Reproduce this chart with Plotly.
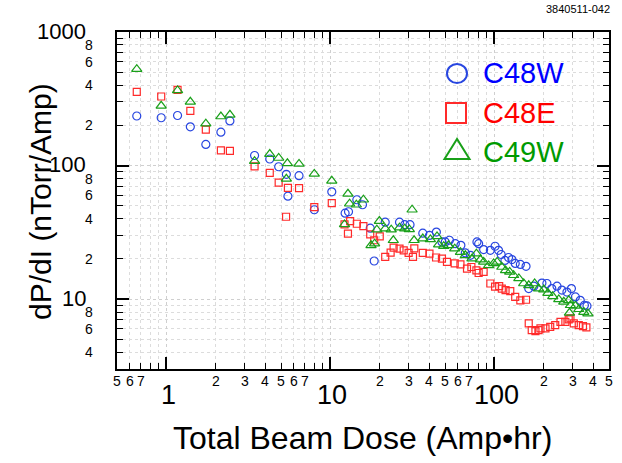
import plotly.graph_objects as go
import math

# ---------------- data ----------------
c48w_dose = [0.66,0.93,1.17,1.40,1.74,2.15,2.44,3.45,4.27,4.84,5.39,5.51,6.44,7.98,10.2,12.3,12.9,14.5,15.7,17.5,
             18.5,21.6,26.4,28.4,30.6,36.6,40.2,44.3,47.9,50.2,53.2,57.8,62.5,66.5,71.4,78.3,80.2,86.0,94.5,101,
             106,110,116,122,128,134,144,156,162,174,195,209,224,241,258,277,295,312,334,354,367]
c48w_dpdi = [235,228,237,195,144,178,216,119,112,98,86,59,84,46.7,63.6,44,45.1,55.5,50.9,34.0,
             19.3,37.7,37.7,36.1,36.1,31.2,30.0,31.8,26.8,26.8,27.6,26.0,25.3,22.2,21.3,26.8,26.0,23.5,23.2,24.9,
             23.2,21.6,19.5,20.5,19.8,18.5,18.2,17.6,12.0,12.5,13.2,13.1,12.0,12.5,11.7,11.3,12.0,10.4,9.8,9.0,8.9]

c48e_dose = [0.66,0.93,1.17,1.40,1.74,2.15,2.44,3.45,4.27,4.84,5.51,5.37,6.44,7.98,10.2,12.2,12.8,13.2,14.5,15.9,
             17.5,18.5,20.0,21.6,23.3,24.3,26.4,28.0,30.0,31.9,32.5,36.6,40.2,44.1,47.9,51.4,57.3,62.1,68.1,72.4,
             77.7,80.2,86.0,94.5,101,107,111,117,125,134,144,156,162,169,178,186,191,205,219,235,
             253,271,284,291,305,327,347,364]
c48e_dpdi = [356,329,369,257,186,130,129,98.8,88.2,74.6,68.2,41.4,67.7,48.9,52.3,36.3,30.9,38.4,36.7,35.2,
             30.5,27.6,29.5,20.7,22.3,24.3,23.9,23.2,22.2,20.7,24.0,22.2,21.9,20.5,20.1,19.0,18.5,18.2,16.9,17.4,
             16.4,15.7,16.0,13.1,12.4,12.5,12.0,11.7,11.5,10.4,9.8,9.9,6.59,5.87,5.77,5.87,6.04,6.04,6.21,6.40,
             6.77,6.77,7.06,7.18,6.59,6.40,6.29,6.15]

c49w_dose = [0.66,0.93,1.17,1.40,1.74,2.15,2.44,3.45,4.27,4.84,5.47,5.39,6.44,7.98,10.2,12.8,13.1,12.2,14.4,15.9,
             17.7,18.6,19.2,19.9,21.6,23.5,24.2,26.4,28.4,30.3,31.5,32.4,36.6,40.7,44.7,45.7,49.1,52.6,57.3,62.1,
             66.5,73.0,77.7,82.2,86.0,92.3,99,104,111,117,124,131,141,151,162,176,186,200,212,227,
             247,265,284,291,287,312,327,351,372]
c49w_dpdi = [527,280,365,300,206,233,240,108,122,114,104,79.6,103,86.7,76.9,61.5,51.8,36.3,50.9,55.5,
             25.3,26.0,33.1,38.4,33.7,33.1,27.6,34.3,33.7,33.3,46.7,27.6,28.4,28.0,29.5,25.6,24.9,25.3,23.9,22.5,
             21.3,20.1,21.9,19.8,19.0,17.9,18.5,19.0,17.4,16.4,16.0,15.1,14.3,13.1,12.7,13.1,12.0,11.8,11.1,10.5,
             9.95,9.55,9.8,9.0,7.9,8.9,8.4,8.0,7.8]

series_names = ["C48W", "C48E", "C49W"]

x_range = (0.5, 500)
y_range = (3, 1000)
x_major = [1, 10, 100]
x_major_labels = ["1", "10", "100"]
x_minor_labels = [(0.5, "5"), (0.6, "6"), (0.7, "7"),
                  (2, "2"), (3, "3"), (4, "4"), (5, "5"), (6, "6"), (7, "7"),
                  (20, "2"), (30, "3"), (40, "4"), (50, "5"), (60, "6"), (70, "7"),
                  (200, "2"), (300, "3"), (400, "4"), (500, "5")]
y_major = [10, 100, 1000]
y_major_labels = ["10", "100", "1000"]
y_minor_labels = [(4, "4"), (6, "6"), (8, "8"),
                  (20, "2"), (40, "4"), (60, "6"), (80, "8"),
                  (200, "2"), (400, "4"), (600, "6"), (800, "8")]

# ---------------- styling ----------------
FONT = "Liberation Sans"
BLUE_M, RED_M, GREEN_M = "#2846e0", "#ff2a2a", "#19a019"
BLUE_T, RED_T, GREEN_T = "#0000ff", "#ff0000", "#009a00"

W, H = 622, 463
L, R, T, B = 117, 609, 32, 369

def pxx(p):
    return (p - L) / (R - L)

def pxy(p):
    return (B - p) / (B - T)

XL0, XL1 = math.log10(x_range[0]), math.log10(x_range[1])
YL0, YL1 = math.log10(y_range[0]), math.log10(y_range[1])

def fx(v):  # data value -> paper fraction along x
    return (math.log10(v) - XL0) / (XL1 - XL0)

def fy(v):
    return (math.log10(v) - YL0) / (YL1 - YL0)

fig = go.Figure()
fig.add_trace(go.Scatter(x=c48w_dose, y=c48w_dpdi, mode="markers", name=series_names[0],
                         marker=dict(symbol="circle-open", size=8, color=BLUE_M, line=dict(width=1.2))))
fig.add_trace(go.Scatter(x=c48e_dose, y=c48e_dpdi, mode="markers", name=series_names[1],
                         marker=dict(symbol="square-open", size=7, color=RED_M, line=dict(width=1.2))))
fig.add_trace(go.Scatter(x=c49w_dose, y=c49w_dpdi, mode="markers", name=series_names[2],
                         marker=dict(symbol="triangle-up-open", size=9, color=GREEN_M, line=dict(width=1.2))))

def minor_vals(lo, hi):
    vals = []
    d = 10.0 ** math.floor(math.log10(lo))
    while d < hi * 1.0001:
        for k in range(2, 10):
            v = k * d
            if lo * 0.9999 <= v <= hi * 1.0001:
                vals.append(v)
        d *= 10
    return vals

grid = dict(showgrid=True, gridcolor="#cfcfcf", griddash="dot", gridwidth=1)

fig.update_xaxes(type="log", range=[XL0, XL1],
                 tickmode="array", tickvals=x_major, showticklabels=False,
                 ticks="inside", ticklen=12, tickwidth=1.5, tickcolor="black",
                 showline=True, linewidth=2, linecolor="black", mirror="allticks",
                 zeroline=False, **grid,
                 minor=dict(tickmode="array", tickvals=minor_vals(*x_range), ticks="inside",
                            ticklen=6, tickwidth=1, tickcolor="black",
                            showgrid=True, gridcolor="#dcdcdc", griddash="dot"))
fig.update_yaxes(type="log", range=[YL0, YL1],
                 tickmode="array", tickvals=y_major, showticklabels=False,
                 ticks="inside", ticklen=12, tickwidth=1.5, tickcolor="black",
                 showline=True, linewidth=2, linecolor="black", mirror="allticks",
                 zeroline=False, **grid,
                 minor=dict(tickmode="array", tickvals=minor_vals(*y_range), ticks="inside",
                            ticklen=6, tickwidth=1, tickcolor="black",
                            showgrid=True, gridcolor="#dcdcdc", griddash="dot"))

ann = []
# x tick labels
for v, t in x_minor_labels:
    ann.append(dict(x=fx(v), y=0, xref="paper", yref="paper", text=t, showarrow=False,
                    xanchor="center", yanchor="middle", yshift=-12,
                    font=dict(family=FONT, size=14, color="black")))
for v, t in zip(x_major, x_major_labels):
    ann.append(dict(x=fx(v), y=0, xref="paper", yref="paper", text=t, showarrow=False,
                    xanchor="center", yanchor="middle", yshift=-26, xshift=2,
                    font=dict(family=FONT, size=27, color="black")))
# y tick labels
for v, t in y_minor_labels:
    ann.append(dict(x=0, y=fy(v), xref="paper", yref="paper", text=t, showarrow=False,
                    xanchor="center", yanchor="middle", xshift=-28,
                    font=dict(family=FONT, size=14, color="black")))
for v, t in zip(y_major, y_major_labels):
    ann.append(dict(x=0, y=fy(v), xref="paper", yref="paper", text=t, showarrow=False,
                    xanchor="right", yanchor="middle", xshift=-29, yshift=1,
                    font=dict(family=FONT, size=22, color="black")))
# axis titles
ann.append(dict(x=pxx(362), y=pxy(438), xref="paper", yref="paper", text="Total Beam Dose (Amp•hr)",
                showarrow=False, xanchor="center", yanchor="middle",
                font=dict(family=FONT, size=32, color="black")))
ann.append(dict(x=pxx(40), y=pxy(202), xref="paper", yref="paper", text="dP/dI (nTorr/Amp)",
                showarrow=False, xanchor="center", yanchor="middle", textangle=-90,
                font=dict(family=FONT, size=30, color="black")))
# figure id
ann.append(dict(x=pxx(612), y=pxy(9), xref="paper", yref="paper", text="3840511-042",
                showarrow=False, xanchor="right", yanchor="middle",
                font=dict(family=FONT, size=11, color="black")))
# legend text
for name, col, cy in zip(series_names, [BLUE_T, RED_T, GREEN_T], [73, 113, 152]):
    ann.append(dict(x=pxx(481), y=pxy(cy), xref="paper", yref="paper", text=name,
                    showarrow=False, xanchor="left", yanchor="middle",
                    font=dict(family=FONT, size=29, color=col)))

shapes = [
    dict(type="circle", xref="paper", yref="paper", x0=pxx(447), x1=pxx(467), y0=pxy(83), y1=pxy(64),
         line=dict(color=BLUE_M, width=2)),
    dict(type="rect", xref="paper", yref="paper", x0=pxx(446), x1=pxx(466), y0=pxy(123), y1=pxy(103),
         line=dict(color=RED_M, width=2)),
    dict(type="path", xref="paper", yref="paper",
         path=f"M {pxx(457)} {pxy(139)} L {pxx(444.5)} {pxy(159)} L {pxx(469.5)} {pxy(159)} Z",
         line=dict(color=GREEN_M, width=2)),
]

fig.update_layout(width=W, height=H, margin=dict(l=L, r=W - R, t=T, b=H - B),
                  paper_bgcolor="white", plot_bgcolor="white", showlegend=False,
                  annotations=ann, shapes=shapes, font=dict(family=FONT))

fig.write_html("out.html", config={"displayModeBar": False},
               post_script="document.body.style.margin='0';document.body.style.overflow='hidden';")
